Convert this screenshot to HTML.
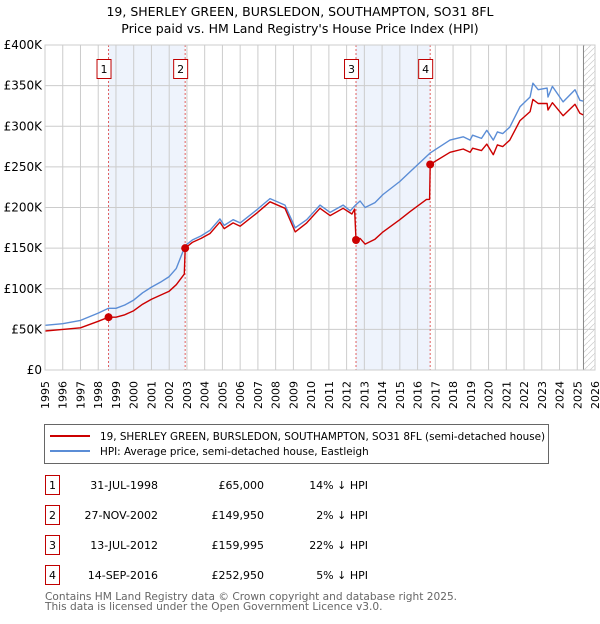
<!DOCTYPE html>
<html><head><meta charset="utf-8"><style>
body{margin:0;background:#fff;width:600px;height:620px;overflow:hidden;font-family:"DejaVu Sans","Liberation Sans",sans-serif;}
svg text{font-family:"DejaVu Sans","Liberation Sans",sans-serif;}
</style></head><body>
<svg id="chart" width="600" height="620" viewBox="0 0 600 620" xmlns="http://www.w3.org/2000/svg">
<text x="300" y="16" text-anchor="middle" font-size="12.5" fill="#000">19, SHERLEY GREEN, BURSLEDON, SOUTHAMPTON, SO31 8FL</text>
<text x="300" y="33" text-anchor="middle" font-size="12.5" fill="#000">Price paid vs. HM Land Registry's House Price Index (HPI)</text>
<g id="plot"></g>
<g>
<rect x="44.5" y="424.5" width="504" height="39" fill="#fff" stroke="#666"/>
<line x1="50" y1="436" x2="90" y2="436" stroke="#cc0000" stroke-width="2"/>
<text x="100" y="440" font-size="10.4">19, SHERLEY GREEN, BURSLEDON, SOUTHAMPTON, SO31 8FL (semi-detached house)</text>
<line x1="50" y1="451" x2="90" y2="451" stroke="#5b8dd6" stroke-width="2"/>
<text x="100" y="455" font-size="10.4">HPI: Average price, semi-detached house, Eastleigh</text>
</g>
<g id="table" font-size="11"></g>
<text x="45" y="600" font-size="10.6" fill="#666">Contains HM Land Registry data © Crown copyright and database right 2025.</text>
<text x="45" y="610" font-size="10.6" fill="#666">This data is licensed under the Open Government Licence v3.0.</text>
</svg>
<script>
const hpiYears=[1995,1996,1997,1998,1998.58,1999,1999.5,2000,2000.5,2001,2001.5,2002,2002.4,2002.9,2003.3,2003.8,2004.3,2004.86,2005.1,2005.6,2006,2006.93,2007.68,2008.53,2009.1,2009.75,2010.5,2011.07,2011.8,2012.2,2012.5,2012.76,2013.04,2013.6,2014.05,2015,2015.58,2016.7,2017.83,2018.57,2018.96,2019.1,2019.6,2019.9,2020.27,2020.5,2020.8,2021.2,2021.77,2022.34,2022.5,2022.8,2023.3,2023.35,2023.6,2024.2,2024.87,2025.15,2025.33];
const hpiValues=[55,57,61,70,76,76,80,86,95,102,108,115,125,153,160,165,172,186,178,185,181,197,211,203,175,185,203,194,203,196,203,208,200,206,216,232,244,267,283,287,283,289,285,295,283,293,291,299,324,336,353,345,347,336,349,330,345,332,331];
const paidYears=[1995,1996,1997,1998,1998.58,1999,1999.5,2000,2000.5,2001,2001.5,2002,2002.4,2002.85,2002.9,2003.3,2003.8,2004.3,2004.86,2005.1,2005.6,2006,2006.93,2007.68,2008.53,2009.1,2009.75,2010.5,2011.07,2011.8,2012.3,2012.45,2012.53,2012.76,2013.04,2013.6,2014.05,2015,2015.58,2016.5,2016.68,2016.71,2017.83,2018.57,2018.96,2019.1,2019.6,2019.9,2020.27,2020.5,2020.8,2021.2,2021.77,2022.34,2022.5,2022.8,2023.3,2023.35,2023.6,2024.2,2024.87,2025.15,2025.33];
const paidValues=[48,50,52,60,65,65,68,73,81,87,92,97,105,118,150,157,162,168,182,174,181,177,193,207,199,170,181,199,190,199,192,198,160,162,155,161,170,185,195,210,210,253,268,272,268,273,270,278,265,277,275,283,307,318,333,328,328,320,329,313,327,316,314];
const saleLabels=["1","2","3","4"];
const saleYears=[1998.58,2002.9,2012.53,2016.71];
const salePrices=[65,149.95,159.995,252.95];
const saleDates=["31-JUL-1998","27-NOV-2002","13-JUL-2012","14-SEP-2016"];
const salePriceText=["£65,000","£149,950","£159,995","£252,950"];
const saleHpiText=["14% ↓ HPI","2% ↓ HPI","22% ↓ HPI","5% ↓ HPI"];
const yTicks=[0,50,100,150,200,250,300,350,400];
const yTickLabels=["£0","£50K","£100K","£150K","£200K","£250K","£300K","£350K","£400K"];
const xTicks=[1995,1996,1997,1998,1999,2000,2001,2002,2003,2004,2005,2006,2007,2008,2009,2010,2011,2012,2013,2014,2015,2016,2017,2018,2019,2020,2021,2022,2023,2024,2025,2026];

const NS="http://www.w3.org/2000/svg";
const L=45,R=595,T=45,B=370;
const xs=y=>L+(y-1995)/(2026-1995)*(R-L);
const ys=v=>B-v/400*(B-T);
function mk(tag,attrs,parent){const e=document.createElementNS(NS,tag);for(const k in attrs)e.setAttribute(k,attrs[k]);parent.appendChild(e);return e;}
const plot=document.getElementById('plot');
for(let i=0;i<saleYears.length;i+=2){
  const r=mk('rect',{x:xs(saleYears[i]),y:T,width:xs(saleYears[i+1])-xs(saleYears[i]),height:B-T,fill:'#eef3fc'},plot);
  
  
}
const defs=mk('defs',{},plot);
const pat=mk('pattern',{id:'hatch',width:6,height:6,patternUnits:'userSpaceOnUse'},defs);
mk('path',{d:'M0,6 L6,0',stroke:'#ccc','stroke-width':0.7},pat);
const hx=xs(2025.35);
const hr=mk('rect',{x:hx,y:T,width:R-hx,height:B-T,fill:'url(#hatch)'},plot);


xTicks.forEach(t=>{
  const g=mk('line',{x1:xs(t),x2:xs(t),y1:T,y2:B,stroke:'#ccc','stroke-width':1},plot);
  
  
  const tx=mk('text',{x:0,y:0,transform:`translate(${xs(t)+4},381) rotate(-90)`,'text-anchor':'end','font-size':11},plot);
  
  
  tx.textContent=t;
});
yTicks.forEach((t,i)=>{
  const g=mk('line',{x1:L,x2:R,y1:ys(t),y2:ys(t),stroke:'#ccc','stroke-width':1},plot);
  
  
  const tx=mk('text',{x:L-3,y:ys(t)+4,'text-anchor':'end','font-size':12},plot);
  
  
  tx.textContent=yTickLabels[i];
});
mk('line',{x1:hx,x2:hx,y1:T,y2:B,stroke:'#888','stroke-width':1},plot);
saleYears.forEach((s,i)=>{
  const l=mk('line',{x1:xs(s),x2:xs(s),y1:T,y2:B,stroke:'#e06060','stroke-width':1,'stroke-dasharray':'2,2'},plot);
  
  
  const b=mk('rect',{x:xs(s)-11.5,y:59.5,width:14,height:19,fill:'#fff',stroke:'#c00000'},plot);
  
  
  const t=mk('text',{x:xs(s)-4.5,y:73,'text-anchor':'middle','font-size':11},plot);
  
  
  t.textContent=saleLabels[i];
});
function line(xa,va,color,name){
  const d=xa.map((x,i)=>(i?'L':'M')+xs(x).toFixed(1)+','+ys(va[i]).toFixed(1)).join(' ');
  const p=mk('path',{d:d,fill:'none',stroke:color,'stroke-width':1.4,'stroke-linejoin':'round'},plot);
  
  
}
line(hpiYears,hpiValues,'#5b8dd6','hpi-line');
line(paidYears,paidValues,'#cc0000','price-paid-line');
saleYears.forEach((s,i)=>{
  const c=mk('circle',{cx:xs(s),cy:ys(salePrices[i]),r:4,fill:'#cc0000'},plot);
  
  
});
mk('rect',{x:L,y:T,width:R-L,height:B-T,fill:'none',stroke:'#ccc'},plot);
const tb=document.getElementById('table');
saleLabels.forEach((lab,i)=>{
  const y0=475+i*30;
  const b=mk('rect',{x:45.5,y:y0+0.5,width:14,height:19,fill:'#fff',stroke:'#c00000'},tb);
  
  
  const cells=[[52.5,'middle',lab,'row-label'],[158,'end',saleDates[i],'row-date'],[264,'end',salePriceText[i],'row-price'],[368,'end',saleHpiText[i],'row-hpi-diff']];
  cells.forEach(c=>{
    const t=mk('text',{x:c[0],y:y0+14,'text-anchor':c[1],'font-size':11},tb);
    
    
    t.textContent=c[2];
  });
});
</script>
</body></html>
